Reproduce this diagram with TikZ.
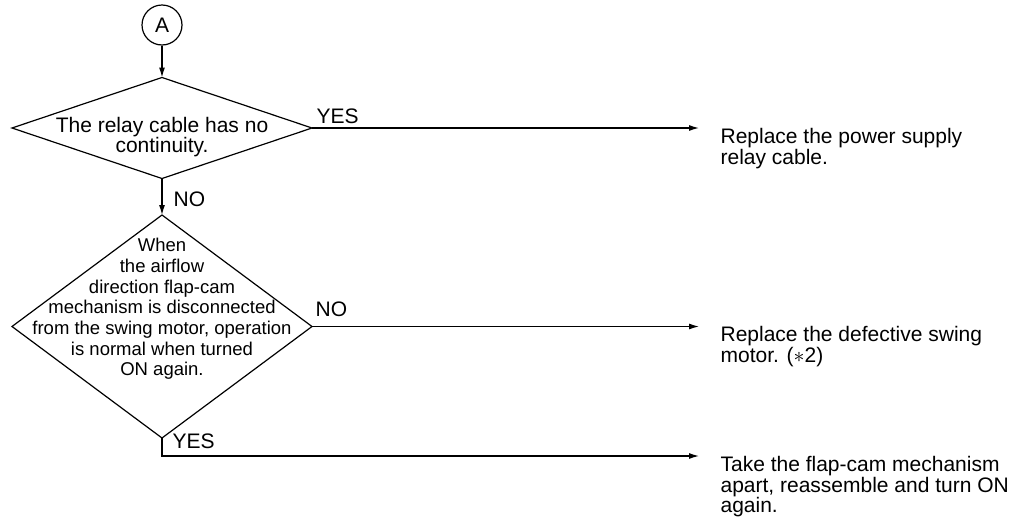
\documentclass[tikz,border=0pt]{standalone}
\usepackage{fontspec}
\setmainfont{Liberation Sans}
\usetikzlibrary{arrows.meta,shapes.geometric}
\lineskiplimit=-5pt

\begin{document}
\begin{tikzpicture}[
    x=0.5pt, y=-0.5pt,
    line width=0.6pt,
    decision/.style={diamond, draw, inner sep=0pt, outer sep=0pt, minimum width=150pt},
    condtext/.style={font=\fontsize{10.5}{10}\selectfont, inner sep=0pt, align=center},
    condsmall/.style={condtext, font=\fontsize{9.25}{10.35}\selectfont},
    result/.style={font=\fontsize{10.5}{10.25}\selectfont, inner sep=0pt, align=left, anchor=north west},
    tag/.style={font=\fontsize{10.5}{10}\selectfont, inner sep=0pt, anchor=base west},
    arr/.style={-{Latex[length=5pt,width=3pt]}}
  ]
  \useasboundingbox (0,0) rectangle (1026,520);

  % connector mark and the two checks
  \node[circle, draw, minimum size=20pt, inner sep=0pt, font=\fontsize{10.5}{10}\selectfont] (a) at (162,25) {A};
  \node[decision, minimum height=50.5pt] (d1) at (162,128) {};
  \node[condtext] (q1) at (162,137) {The relay cable has no\\continuity.};
  \node[decision, minimum height=111.5pt] (d2) at (162,326.5) {};
  \node[condsmall] (q2) at (162,309) {When\\the airflow\\direction flap-cam\\mechanism is disconnected\\from the swing motor, operation\\is normal when turned\\ON again.};

  % actions
  \node[result] (r1) at (720,128) {Replace the power supply\\relay cable.};
  \node[result] (r2) at (720,326) {Replace the defective swing\\motor. (\(\ast\)2)};
  \node[result] (r3) at (720,456) {Take the flap-cam mechanism\\apart, reassemble and turn ON\\again.};
  \coordinate (e1) at (699,128);
  \coordinate (e2) at (699,326.5);
  \coordinate (e3) at (699,456);

  \draw[arr] (a) -- (d1);
  \draw[arr] (d1.east) -- (e1);
  \draw[arr] (d1) -- (d2);
  \draw[arr] (d2.east) -- (e2);
  \draw[arr] (d2.south) |- (e3);

  \node[tag] (yes1) at (316,123) {YES};
  \node[tag] (no1) at (173,206) {NO};
  \node[tag] (no2) at (315,316) {NO};
  \node[tag] (yes2) at (172,448) {YES};
\end{tikzpicture}
\end{document}
